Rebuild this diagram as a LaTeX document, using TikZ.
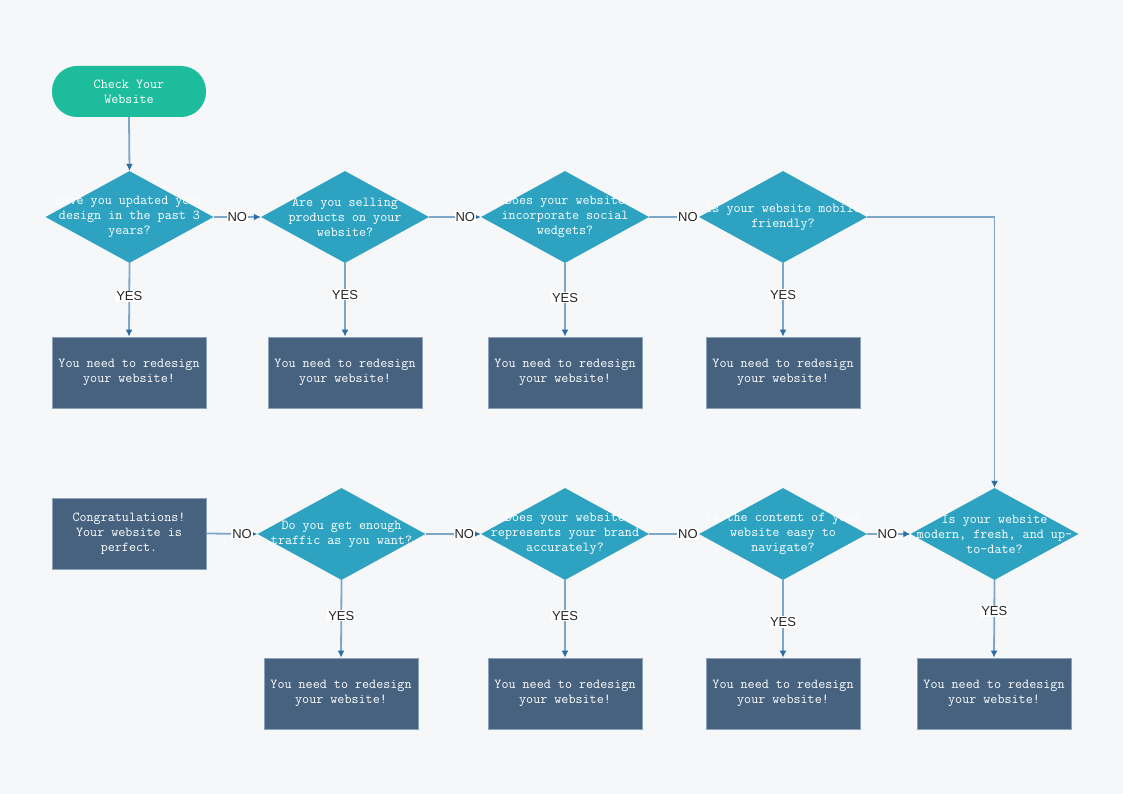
\documentclass[tikz,border=0pt]{standalone}
\usepackage{fontspec}
\setmainfont{Liberation Sans}
\usetikzlibrary{shapes.geometric,arrows.meta}
\definecolor{bgc}{HTML}{F5F7F8}
\definecolor{termc}{HTML}{1CBC9C}
\definecolor{diac}{HTML}{2EA3C1}
\definecolor{boxc}{HTML}{46627F}
\definecolor{boxb}{HTML}{8AA3BA}
\definecolor{linec}{HTML}{7EA6C8}
\definecolor{tipc}{HTML}{2B6CA3}
\tikzset{
  terminal/.style={rectangle, rounded corners=25pt, fill=termc, minimum width=154pt, minimum height=51pt, inner sep=0pt},
  dia/.style={diamond, fill=diac, minimum width=168pt, minimum height=92pt, inner sep=0pt},
  resbox/.style={rectangle, fill=boxc, draw=boxb, line width=0.8pt, minimum width=154pt, minimum height=71pt, inner sep=0pt},
  wtext/.style={text=white, font=\ttfamily\fontsize{13.7}{15}\selectfont, align=center, inner sep=0pt},
  conn/.style={draw=linec, line width=1.8pt, -{Latex[length=7pt,width=7pt,color=tipc]}},
  lbl/.style={fill=white, text=black!85, font=\fontsize{13}{15}\selectfont, inner sep=1pt}
}
\begin{document}
\begin{tikzpicture}[x=1pt,y=-1pt]
\fill[bgc] (0,0) rectangle (1123,794);
\useasboundingbox (0,0) rectangle (1123,794);
% start
\node[terminal] (start) at (129,91.5) {};
\node[wtext] at (start) {Check Your\\Website};
% row 1 diamonds
\node[dia] (d1) at (129.5,217) {};
\node[wtext] at (d1) {Have you updated your\\design in the past 3\\years?};
\node[dia] (d2) at (345,217) {};
\node[wtext] at (d2) {Are you selling\\products on your\\website?};
\node[dia] (d3) at (565,217) {};
\node[wtext] at (d3) {Does your website\\incorporate social\\wedgets?};
\node[dia] (d4) at (783,217) {};
\node[wtext] at (d4) {Is your website mobile\\friendly?};
% row 1 boxes
\node[resbox] (r1) at (129,372.5) {};
\node[wtext] at (r1) {You need to redesign\\your website!};
\node[resbox] (r2) at (345,372.5) {};
\node[wtext] at (r2) {You need to redesign\\your website!};
\node[resbox] (r3) at (565,372.5) {};
\node[wtext] at (r3) {You need to redesign\\your website!};
\node[resbox] (r4) at (783,372.5) {};
\node[wtext] at (r4) {You need to redesign\\your website!};
% row 2 diamonds
\node[dia] (d5) at (994.5,534) {};
\node[wtext] at (d5) {Is your website\\modern, fresh, and up-\\to-date?};
\node[dia] (d6) at (783,534) {};
\node[wtext] at (d6) {Is the content of your\\website easy to\\navigate?};
\node[dia] (d7) at (565,534) {};
\node[wtext] at (d7) {Does your website\\represents your brand\\accurately?};
\node[dia] (d8) at (341.5,534) {};
\node[wtext] at (d8) {Do you get enough\\traffic as you want?};
% congratulations
\node[resbox] (cg) at (129,533.5) {};
\node[wtext] at (cg) {Congratulations!\\Your website is\\perfect.};
% row 2 boxes
\node[resbox] (r8) at (341,693.5) {};
\node[wtext] at (r8) {You need to redesign\\your website!};
\node[resbox] (r7) at (565,693.5) {};
\node[wtext] at (r7) {You need to redesign\\your website!};
\node[resbox] (r6) at (783,693.5) {};
\node[wtext] at (r6) {You need to redesign\\your website!};
\node[resbox] (r5) at (994,693.5) {};
\node[wtext] at (r5) {You need to redesign\\your website!};
% connectors
\draw[conn] (start.south) -- (d1.north);
\draw[conn] (d1.east) -- node[lbl, pos=0.5] {NO} (d2.west);
\draw[conn] (d2.east) -- node[lbl, pos=0.7] {NO} (d3.west);
\draw[conn] (d3.east) -- node[lbl, pos=0.78] {NO} (d4.west);
\draw[conn] (d4.east) -| (d5.north);
\draw[conn] (d1.south) -- node[lbl, pos=0.45] {YES} (r1.north);
\draw[conn] (d2.south) -- node[lbl, pos=0.43] {YES} (r2.north);
\draw[conn] (d3.south) -- node[lbl, pos=0.47] {YES} (r3.north);
\draw[conn] (d4.south) -- node[lbl, pos=0.43] {YES} (r4.north);
\draw[conn] (d6.east) -- node[lbl, pos=0.47] {NO} (d5.west);
\draw[conn] (d7.east) -- node[lbl, pos=0.78] {NO} (d6.west);
\draw[conn] (d8.east) -- node[lbl, pos=0.7] {NO} (d7.west);
\draw[conn] (cg.east) -- node[lbl, pos=0.7] {NO} (d8.west);
\draw[conn] (d8.south) -- node[lbl, pos=0.46] {YES} (r8.north);
\draw[conn] (d7.south) -- node[lbl, pos=0.46] {YES} (r7.north);
\draw[conn] (d6.south) -- node[lbl, pos=0.54] {YES} (r6.north);
\draw[conn] (d5.south) -- node[lbl, pos=0.4] {YES} (r5.north);
\end{tikzpicture}
\end{document}
